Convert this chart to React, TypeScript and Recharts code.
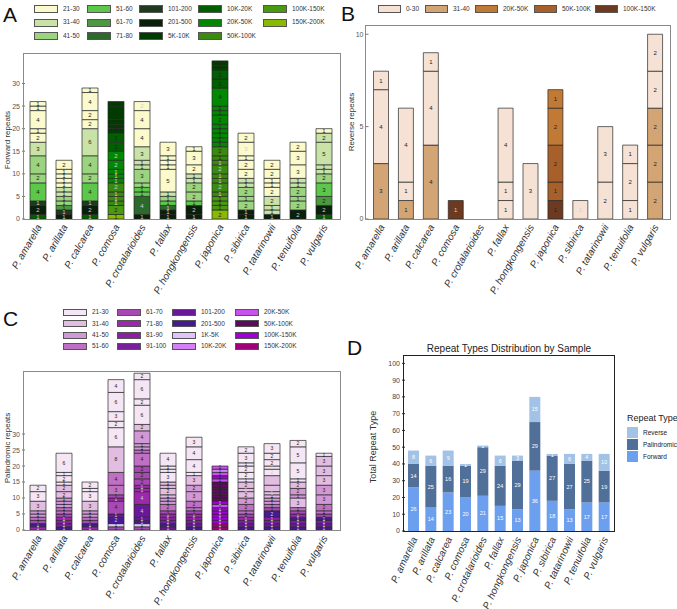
import { BarChart, Bar, XAxis, YAxis, Cell, LabelList } from 'recharts';

const SPECIES = [
    'P. amarella', 'P. arillata', 'P. calcarea', 'P. comosa', 'P. crotalarioides', 'P. fallax',
    'P. hongkongensis', 'P. japonica', 'P. sibirica', 'P. tatarinowii', 'P. tenuifolia', 'P. vulgaris',
];

type Seg = [string, number];

// forward repeats, length classes
const FWD_CLASSES = ['21-30', '31-40', '41-50', '51-60', '61-70', '71-80', '101-200', '201-500', '5K-10K', '10K-20K', '20K-50K', '50K-100K', '100K-150K', '150K-200K'];
const FWD_FILLS = ['#fafacc', '#c8e2a8', '#9ad47e', '#5cc84a', '#4a9a40', '#2c6a2c', '#203a20', '#0a200a', '#003c00', '#006000', '#008800', '#3a8a10', '#4a9a10', '#88bb00'];

// segments per species, bottom to top: [class, count]
const FWD_SEGMENTS: Seg[][] = [
    [['10K-20K', 1], ['201-500', 2], ['101-200', 1], ['51-60', 4], ['41-50', 2], ['41-50', 4], ['31-40', 3], ['21-30', 2], ['21-30', 1], ['21-30', 4], ['21-30', 1], ['21-30', 1]],
    [['201-500', 1], ['101-200', 1], ['61-70', 1], ['41-50', 1], ['41-50', 1], ['31-40', 1], ['31-40', 1], ['21-30', 1], ['21-30', 1], ['21-30', 1], ['21-30', 1], ['21-30', 2]],
    [['10K-20K', 1], ['201-500', 2], ['101-200', 1], ['51-60', 4], ['41-50', 2], ['41-50', 4], ['31-40', 6], ['21-30', 2], ['21-30', 2], ['21-30', 4], ['21-30', 1]],
    [['150K-200K', 1], ['100K-150K', 2], ['50K-100K', 1], ['50K-100K', 1], ['50K-100K', 1], ['50K-100K', 2], ['20K-50K', 1], ['20K-50K', 1], ['20K-50K', 1], ['20K-50K', 2], ['20K-50K', 2], ['10K-20K', 2], ['10K-20K', 2], ['5K-10K', 1], ['5K-10K', 1], ['5K-10K', 1], ['5K-10K', 3], ['5K-10K', 1]],
    [['201-500', 1], ['71-80', 4], ['51-60', 1], ['51-60', 1], ['41-50', 1], ['41-50', 3], ['31-40', 1], ['31-40', 1], ['31-40', 3], ['21-30', 4], ['21-30', 4], ['21-30', 2]],
    [['201-500', 1], ['201-500', 1], ['71-80', 1], ['51-60', 1], ['41-50', 1], ['31-40', 1], ['21-30', 5], ['21-30', 1], ['21-30', 1], ['21-30', 1], ['21-30', 3]],
    [['201-500', 1], ['201-500', 2], ['51-60', 1], ['41-50', 2], ['41-50', 2], ['31-40', 1], ['31-40', 1], ['21-30', 2], ['21-30', 3], ['21-30', 1]],
    [['150K-200K', 2], ['100K-150K', 1], ['100K-150K', 1], ['100K-150K', 1], ['50K-100K', 1], ['50K-100K', 2], ['50K-100K', 1], ['50K-100K', 1], ['50K-100K', 2], ['50K-100K', 1], ['50K-100K', 1], ['50K-100K', 2], ['20K-50K', 1], ['20K-50K', 1], ['20K-50K', 1], ['20K-50K', 1], ['20K-50K', 1], ['20K-50K', 2], ['20K-50K', 1], ['20K-50K', 1], ['20K-50K', 4], ['10K-20K', 2], ['10K-20K', 2], ['5K-10K', 1], ['5K-10K', 1]],
    [['201-500', 1], ['201-500', 1], ['41-50', 2], ['41-50', 1], ['41-50', 2], ['31-40', 1], ['31-40', 1], ['21-30', 2], ['21-30', 2], ['21-30', 1], ['21-30', 3], ['21-30', 2]],
    [['201-500', 1], ['31-40', 1], ['31-40', 1], ['31-40', 2], ['21-30', 2], ['21-30', 1], ['21-30', 1], ['21-30', 2], ['21-30', 2]],
    [['201-500', 2], ['41-50', 2], ['41-50', 1], ['41-50', 2], ['31-40', 1], ['31-40', 1], ['21-30', 3], ['21-30', 3], ['21-30', 2]],
    [['10K-20K', 1], ['201-500', 2], ['61-70', 2], ['51-60', 3], ['41-50', 2], ['31-40', 1], ['31-40', 1], ['31-40', 5], ['31-40', 2], ['21-30', 1]],
];

// reverse repeats
const REV_CLASSES = ['0-30', '31-40', '20K-50K', '50K-100K', '100K-150K'];
const REV_FILLS = ['#f5e2d4', '#d4a574', '#c07a36', '#a8602a', '#6b3a20'];
const REV_SEGMENTS: Seg[][] = [
    [['31-40', 3], ['0-30', 4], ['0-30', 1]],
    [['31-40', 1], ['0-30', 1], ['0-30', 4]],
    [['31-40', 4], ['0-30', 4], ['0-30', 1]],
    [['100K-150K', 1]],
    [],
    [['0-30', 1], ['0-30', 1], ['0-30', 4]],
    [['0-30', 3]],
    [['100K-150K', 1], ['50K-100K', 1], ['50K-100K', 2], ['20K-50K', 2], ['20K-50K', 1]],
    [['0-30', 1]],
    [['0-30', 2], ['0-30', 3]],
    [['0-30', 1], ['0-30', 2], ['0-30', 1]],
    [['31-40', 2], ['31-40', 2], ['31-40', 2], ['0-30', 2], ['0-30', 2]],
];

// palindromic repeats
const PAL_CLASSES = ['21-30', '31-40', '41-50', '51-60', '61-70', '71-80', '81-90', '91-100', '101-200', '201-500', '1K-5K', '10K-20K', '20K-50K', '50K-100K', '100K-150K', '150K-200K'];
const PAL_FILLS = ['#f4e6f4', '#e2bde2', '#d098d4', '#c070c4', '#a848b4', '#9c28ac', '#8c20a4', '#7a1ea0', '#6a189a', '#461a90', '#e0c4f8', '#d480f4', '#c850ec', '#5c0a5c', '#a000d8', '#a00078'];
const PAL_SEGMENTS: Seg[][] = [
    [['71-80', 1], ['201-500', 1], ['61-70', 1], ['51-60', 1], ['41-50', 1], ['41-50', 1], ['31-40', 3], ['21-30', 3], ['21-30', 2]],
    [['201-500', 1], ['91-100', 1], ['81-90', 1], ['71-80', 1], ['61-70', 1], ['51-60', 1], ['51-60', 1], ['41-50', 1], ['41-50', 1], ['41-50', 1], ['31-40', 2], ['31-40', 2], ['21-30', 1], ['21-30', 2], ['21-30', 1], ['21-30', 6]],
    [['71-80', 1], ['201-500', 1], ['61-70', 1], ['51-60', 1], ['41-50', 1], ['41-50', 1], ['31-40', 3], ['21-30', 3], ['21-30', 1], ['21-30', 2]],
    [['61-70', 1], ['1K-5K', 1], ['201-500', 2], ['101-200', 1], ['61-70', 4], ['71-80', 1], ['61-70', 1], ['51-60', 3], ['51-60', 4], ['31-40', 8], ['21-30', 6], ['21-30', 2], ['21-30', 3], ['21-30', 6], ['21-30', 4]],
    [['61-70', 1], ['1K-5K', 1], ['201-500', 1], ['101-200', 1], ['101-200', 4], ['71-80', 4], ['71-80', 1], ['71-80', 1], ['61-70', 2], ['61-70', 2], ['61-70', 2], ['51-60', 4], ['51-60', 1], ['41-50', 1], ['41-50', 1], ['41-50', 4], ['31-40', 2], ['21-30', 6], ['21-30', 2], ['21-30', 6], ['21-30', 2]],
    [['101-200', 1], ['201-500', 1], ['91-100', 1], ['81-90', 1], ['71-80', 1], ['61-70', 1], ['51-60', 2], ['41-50', 1], ['41-50', 1], ['31-40', 1], ['31-40', 2], ['31-40', 1], ['31-40', 1], ['21-30', 3], ['21-30', 1], ['21-30', 1], ['21-30', 4]],
    [['201-500', 1], ['101-200', 1], ['91-100', 1], ['81-90', 1], ['71-80', 1], ['61-70', 1], ['51-60', 1], ['51-60', 2], ['41-50', 3], ['41-50', 2], ['31-40', 3], ['21-30', 1], ['21-30', 4], ['21-30', 4], ['21-30', 3]],
    [['150K-200K', 1], ['150K-200K', 1], ['100K-150K', 1], ['100K-150K', 1], ['100K-150K', 1], ['100K-150K', 1], ['100K-150K', 1], ['20K-50K', 1], ['100K-150K', 1], ['50K-100K', 1], ['50K-100K', 1], ['50K-100K', 1], ['50K-100K', 1], ['50K-100K', 1], ['50K-100K', 1], ['20K-50K', 1], ['100K-150K', 1], ['20K-50K', 1], ['10K-20K', 1], ['20K-50K', 1]],
    [['201-500', 1], ['101-200', 1], ['91-100', 1], ['71-80', 1], ['61-70', 1], ['51-60', 1], ['51-60', 2], ['41-50', 2], ['31-40', 2], ['31-40', 1], ['31-40', 2], ['21-30', 1], ['21-30', 2], ['21-30', 2], ['21-30', 1], ['21-30', 3], ['21-30', 2]],
    [['201-500', 1], ['101-200', 1], ['91-100', 1], ['81-90', 1], ['201-500', 2], ['61-70', 1], ['51-60', 1], ['41-50', 1], ['41-50', 1], ['31-40', 1], ['31-40', 1], ['31-40', 2], ['31-40', 3], ['21-30', 2], ['21-30', 1], ['21-30', 2], ['21-30', 2], ['21-30', 3]],
    [['201-500', 1], ['101-200', 1], ['91-100', 1], ['201-500', 1], ['71-80', 1], ['61-70', 1], ['51-60', 1], ['31-40', 3], ['41-50', 1], ['41-50', 2], ['31-40', 2], ['21-30', 1], ['21-30', 5], ['21-30', 5], ['21-30', 2]],
    [['201-500', 1], ['101-200', 1], ['91-100', 1], ['201-500', 1], ['61-70', 1], ['51-60', 1], ['51-60', 2], ['41-50', 3], ['41-50', 3], ['31-40', 3], ['31-40', 3], ['31-40', 3], ['21-30', 1]],
];

// repeat type totals per sample
const FORWARD = [26, 14, 23, 20, 21, 15, 13, 36, 18, 13, 17, 17];
const PALINDROMIC = [14, 25, 16, 19, 29, 24, 29, 29, 27, 27, 25, 19];
const REVERSE = [8, 6, 9, 1, 1, 6, 3, 15, 1, 6, 4, 10];

const FWD_TICKS = [0, 5, 10, 15, 20, 25, 30];
const REV_TICKS = [0, 5, 10];
const PAL_TICKS = [0, 5, 10, 15, 20, 25, 30];
const TYPE_TICKS = [0, 10, 20, 30, 40, 50, 60, 70, 80, 90, 100];

const FONT = '"Liberation Sans", Arial, sans-serif';

function isDark(hex: string) {
    const r = parseInt(hex.slice(1, 3), 16);
    const g = parseInt(hex.slice(3, 5), 16);
    const b = parseInt(hex.slice(5, 7), 16);
    return 0.299 * r + 0.587 * g + 0.114 * b < 110;
}

function SpeciesTick({ x, y, payload, angle, fontSize, dx, dy }: any) {
    return (
        <g transform={`translate(${x + dx},${y + dy})`}>
            <text textAnchor="end" transform={`rotate(${angle})`} fontSize={fontSize} fontStyle="italic" fill="#333" fontFamily={FONT}>
                {payload.value}
            </text>
        </g>
    );
}

interface StackedProps {
    segments: Seg[][];
    classes: string[];
    fills: string[];
    width: number;
    height: number;
    margin: { top: number; right: number; bottom: number; left: number };
    yMax: number;
    ticks: number[];
    barSize: number;
    labelSize: number;
    xHeight: number;
}

function StackedPanel({ segments, classes, fills, width, height, margin, yMax, ticks, barSize, labelSize, xHeight }: StackedProps) {
    const n = Math.max(...segments.map((s) => s.length));
    const rows = SPECIES.map((name, i) => {
        const row: Record<string, string | number> = { name };
        segments[i].forEach(([, v], k) => {
            row[`s${k}`] = v;
        });
        return row;
    });
    const fillOf = (c: string) => fills[classes.indexOf(c)];

    return (
        <BarChart width={width} height={height} data={rows} margin={margin}>
            <XAxis
                dataKey="name"
                interval={0}
                axisLine={false}
                tickLine={false}
                tickSize={0}
                height={xHeight}
                tick={(p: any) => <SpeciesTick {...p} angle={-60} fontSize={10} dx={4} dy={6} />}
            />
            <YAxis
                type="number"
                domain={[0, yMax]}
                ticks={ticks}
                allowDataOverflow
                width={20}
                axisLine={false}
                tickSize={3}
                tickLine={{ stroke: '#777' }}
                tick={{ fontSize: 7, fill: '#555', fontFamily: FONT }}
            />
            {Array.from({ length: n }, (_, k) => (
                <Bar key={k} dataKey={`s${k}`} stackId="a" barSize={barSize} isAnimationActive={false}>
                    {SPECIES.map((_, i) => {
                        const seg = segments[i][k];
                        return <Cell key={i} fill={seg ? fillOf(seg[0]) : 'none'} stroke="#262626" strokeWidth={0.7} />;
                    })}
                    <LabelList
                        dataKey={`s${k}`}
                        content={(p: any) => {
                            if (!p.value) return null;
                            const seg = segments[p.index]?.[k];
                            const dark = seg ? isDark(fillOf(seg[0])) : false;
                            return (
                                <text
                                    x={p.x + p.width / 2}
                                    y={p.y + p.height / 2}
                                    dy="0.35em"
                                    textAnchor="middle"
                                    fontSize={labelSize}
                                    fontFamily={FONT}
                                    fill={dark ? '#cfcfcf' : '#222'}
                                >
                                    {p.value}
                                </text>
                            );
                        }}
                    />
                </Bar>
            ))}
        </BarChart>
    );
}

function Swatches({ classes, fills, cols, x0, y0, colX, rowH, sw, sh, gap }: any) {
    return (
        <>
            {classes.map((c: string, i: number) => {
                const col = Math.floor(i / cols);
                const row = i % cols;
                const left = x0 + colX[col];
                const top = y0 + row * rowH;
                return (
                    <div key={c} style={{ position: 'absolute', left, top, display: 'flex', alignItems: 'center', whiteSpace: 'nowrap' }}>
                        <div style={{ width: sw, height: sh, background: fills[i], border: '1px solid #555', boxSizing: 'border-box', flexShrink: 0 }} />
                        <span style={{ marginLeft: gap, fontSize: 6.5, color: '#333', lineHeight: 1 }}>{c}</span>
                    </div>
                );
            })}
        </>
    );
}

const boxStyle = (left: number, top: number, width: number, height: number, color: string): React.CSSProperties => ({
    position: 'absolute', left, top, width, height, border: `1px solid ${color}`, boxSizing: 'border-box', pointerEvents: 'none',
});

const vLabel = (x: number, y: number, size: number, text: string) => (
    <div style={{ position: 'absolute', left: x, top: y, transform: 'translate(-50%,-50%) rotate(-90deg)', fontSize: size, color: '#333', whiteSpace: 'nowrap' }}>
        {text}
    </div>
);

const letter = (x: number, y: number, t: string) => (
    <div style={{ position: 'absolute', left: x, top: y, fontSize: 21, lineHeight: 1, color: '#111' }}>{t}</div>
);

function TypePanel() {
    const rows = SPECIES.map((name, i) => ({ name, Forward: FORWARD[i], Palindromic: PALINDROMIC[i], Reverse: REVERSE[i] }));
    const series = [
        { key: 'Forward', fill: '#6ca0ef' },
        { key: 'Palindromic', fill: '#506f99' },
        { key: 'Reverse', fill: '#a2c2e6' },
    ];
    return (
        <BarChart width={337} height={269} data={rows} margin={{ top: 15, right: 64, bottom: 0, left: 40 }}>
            <XAxis
                dataKey="name"
                interval={0}
                axisLine={false}
                tickLine={false}
                tickSize={0}
                height={78}
                tick={(p: any) => <SpeciesTick {...p} angle={-65} fontSize={10} dx={4} dy={6} />}
            />
            <YAxis
                type="number"
                domain={[0, 105]}
                ticks={TYPE_TICKS}
                allowDataOverflow
                width={25}
                axisLine={false}
                tickSize={3}
                tickLine={{ stroke: '#333' }}
                tick={{ fontSize: 7, fill: '#444', fontFamily: FONT }}
            />
            {series.map((s) => (
                <Bar key={s.key} dataKey={s.key} stackId="t" fill={s.fill} barSize={11} isAnimationActive={false}>
                    <LabelList
                        dataKey={s.key}
                        content={(p: any) =>
                            p.value ? (
                                <text x={p.x + p.width / 2} y={p.y + p.height / 2} dy="0.35em" textAnchor="middle" fontSize={5.5} fill="#fff" fontFamily={FONT}>
                                    {p.value}
                                </text>
                            ) : null
                        }
                    />
                </Bar>
            ))}
        </BarChart>
    );
}

export default function App() {
    return (
        <div style={{ position: 'relative', width: 677, height: 609, background: '#fff', fontFamily: FONT, overflow: 'hidden' }}>
            <style>{'body{margin:0}'}</style>

            {/* A: forward */}
            {letter(3, 4, 'A')}
            <Swatches classes={FWD_CLASSES} fills={FWD_FILLS} cols={3} x0={34} y0={5} colX={[0, 53, 105, 164, 229]} rowH={13.5} sw={24} sh={8} gap={5} />
            <div style={{ position: 'absolute', left: 0, top: 0 }}>
                <StackedPanel
                    segments={FWD_SEGMENTS} classes={FWD_CLASSES} fills={FWD_FILLS}
                    width={345} height={300} margin={{ top: 53, right: 8, bottom: 0, left: 5 }}
                    yMax={36.75} ticks={FWD_TICKS} barSize={16} labelSize={6} xHeight={81}
                />
            </div>
            <div style={boxStyle(23, 53, 318, 167, '#8a8a8a')} />
            {vLabel(7, 140, 8, 'Forward repeats')}

            {/* B: reverse */}
            {letter(341, 3, 'B')}
            <Swatches classes={REV_CLASSES} fills={REV_FILLS} cols={1} x0={378} y0={5} colX={[0, 47, 97, 156, 217]} rowH={12} sw={23} sh={8} gap={5} />
            <div style={{ position: 'absolute', left: 340, top: 0 }}>
                <StackedPanel
                    segments={REV_SEGMENTS} classes={REV_CLASSES} fills={REV_FILLS}
                    width={337} height={300} margin={{ top: 25, right: 9.5, bottom: 0, left: 8.5 }}
                    yMax={10.5} ticks={REV_TICKS} barSize={15} labelSize={6} xHeight={81}
                />
            </div>
            <div style={boxStyle(365, 25, 306, 195, '#8a8a8a')} />
            {vLabel(351, 122, 8, 'Reverse repeats')}

            {/* C: palindromic */}
            {letter(3, 308, 'C')}
            <Swatches classes={PAL_CLASSES} fills={PAL_FILLS} cols={4} x0={63} y0={309} colX={[0, 54, 109, 172]} rowH={11.3} sw={24} sh={7} gap={5} />
            <div style={{ position: 'absolute', left: 0, top: 300 }}>
                <StackedPanel
                    segments={PAL_SEGMENTS} classes={PAL_CLASSES} fills={PAL_FILLS}
                    width={345} height={309} margin={{ top: 71, right: 8, bottom: 0, left: 5 }}
                    yMax={49.7} ticks={PAL_TICKS} barSize={16} labelSize={5} xHeight={79}
                />
            </div>
            <div style={boxStyle(23, 371, 318, 160, '#8a8a8a')} />
            {vLabel(7, 448, 8, 'Palindromic repeats')}

            {/* D: repeat type totals */}
            {letter(347, 337, 'D')}
            <div style={{ position: 'absolute', left: 405, width: 208, top: 343, textAlign: 'center', fontSize: 10, color: '#222', whiteSpace: 'nowrap' }}>
                Repeat Types Distribution by Sample
            </div>
            <div style={{ position: 'absolute', left: 340, top: 340 }}>
                <TypePanel />
            </div>
            <div style={boxStyle(403, 355, 212, 177, '#222')} />
            {vLabel(373, 447, 9, 'Total Repeat Type')}
            <div style={{ position: 'absolute', left: 627, top: 413, fontSize: 9, color: '#222', whiteSpace: 'nowrap' }}>Repeat Type</div>
            {[
                ['Reverse', '#a2c2e6'],
                ['Palindromic', '#506f99'],
                ['Forward', '#6ca0ef'],
            ].map(([name, fill], i) => (
                <div key={name} style={{ position: 'absolute', left: 627, top: 427 + i * 12, display: 'flex', alignItems: 'center', whiteSpace: 'nowrap' }}>
                    <div style={{ width: 11, height: 11, background: fill, flexShrink: 0 }} />
                    <span style={{ marginLeft: 5, fontSize: 6.5, color: '#222' }}>{name}</span>
                </div>
            ))}
        </div>
    );
}
